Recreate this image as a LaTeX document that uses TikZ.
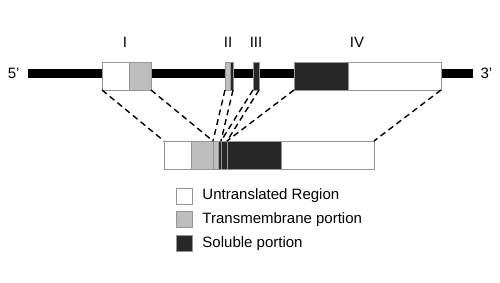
\documentclass[tikz,border=0pt]{standalone}
\usepackage{fontspec}
\setmainfont{Liberation Sans}
\usetikzlibrary{positioning}
\definecolor{tmgray}{RGB}{190,190,190}
\definecolor{solgray}{RGB}{38,38,38}
\definecolor{edgegray}{RGB}{150,150,150}

\begin{document}
\begin{tikzpicture}[x=1pt,y=-1pt,font=\fontsize{15}{18}\selectfont,
   seg/.style={draw=edgegray,line width=0.9pt,inner sep=0pt,outer sep=0pt,anchor=north west,minimum height=28pt},
   utr/.style={seg,fill=white},
   tm/.style={seg,fill=tmgray},
   sol/.style={seg,fill=solgray},
   key/.style={draw=edgegray,line width=0.9pt,inner sep=0pt,minimum size=16pt},
   map/.style={dash pattern=on 6pt off 4pt,line width=1.4pt}]
\useasboundingbox (0,0) rectangle (500,282);
% genomic strand
\coordinate (g5) at (28,73);
\coordinate (g3) at (473,73);
\draw[line width=9pt] (g5) -- (g3);
\node[anchor=east] (p5) at (23,73) {5'};
\node[anchor=west] (p3) at (477,73) {3'};
% exons
\node[utr,minimum width=27pt] (e1a) at (102,62) {};
\node[tm,minimum width=22pt,right=0pt of e1a] (e1b) {};
\node[tm,minimum width=5pt] (e2a) at (225,62) {};
\node[sol,minimum width=3pt,right=0pt of e2a] (e2b) {};
\node[sol,minimum width=6pt] (e3) at (253,62) {};
\node[sol,minimum width=54pt] (e4a) at (294,62) {};
\node[utr,minimum width=93pt,right=0pt of e4a] (e4b) {};
\node (l1) at (125,42) {I};
\node (l2) at (228,42) {II};
\node (l3) at (256,42) {III};
\node (l4) at (357,42) {IV};
% spliced mRNA
\node[utr,minimum width=27pt] (m1) at (164,141) {};
\node[tm,minimum width=22pt,right=0pt of m1] (m2) {};
\node[tm,minimum width=5pt,right=0pt of m2] (m3) {};
\node[sol,minimum width=3pt,right=0pt of m3] (m4) {};
\node[sol,minimum width=6pt,right=0pt of m4] (m5) {};
\node[sol,minimum width=54pt,right=0pt of m5] (m6) {};
\node[utr,minimum width=93pt,right=0pt of m6] (m7) {};
\path[map]
 (e1a.south west) edge (m1.north west)
 (e1b.south east) edge (m2.north east)
 (e2a.south west) edge (m3.north west)
 (e2b.south east) edge (m4.north east)
 (e3.south west) edge (m5.north west)
 (e3.south east) edge (m5.north east)
 (e4a.south west) edge (m6.north west)
 (e4b.south east) edge (m7.north east);
% legend
\node[key,fill=white] (k1) at (184.5,196) {};
\node[key,fill=tmgray,below=7pt of k1] (k2) {};
\node[key,fill=solgray,below=7pt of k2] (k3) {};
\node[anchor=west,right=6pt of k1] (t1) {Untranslated Region};
\node[anchor=west,right=6pt of k2] (t2) {Transmembrane portion};
\node[anchor=west,right=6pt of k3] (t3) {Soluble portion};
\end{tikzpicture}
\end{document}
